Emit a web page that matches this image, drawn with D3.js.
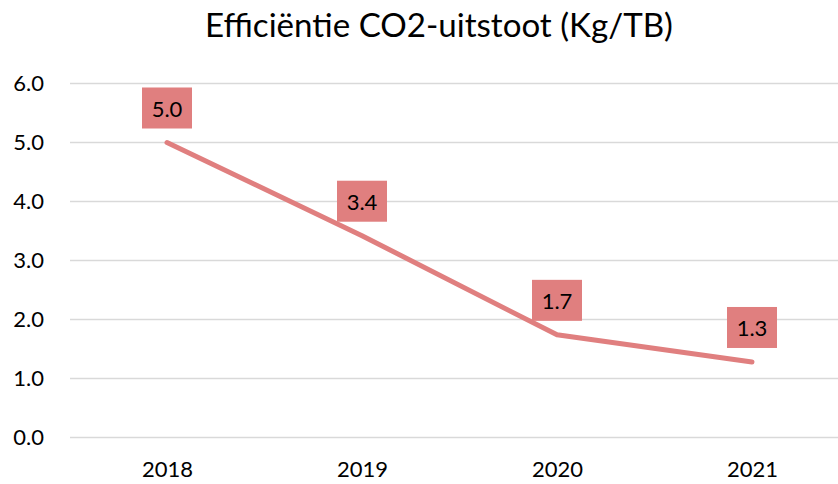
<!DOCTYPE html>
<html>
<head>
<meta charset="utf-8">
<script src="https://cdn.jsdelivr.net/npm/d3@7"></script>
<style>
  html, body { margin: 0; padding: 0; background: #fff; }
  svg { display: block; }
  text { font-family: Lato, "Open Sans", sans-serif; fill: #000; }
</style>
</head>
<body>
<svg id="chart" width="838" height="484"></svg>
<script>
const title = "Efficiëntie CO2-uitstoot (Kg/TB)";
const years = ["2018", "2019", "2020", "2021"];
const values = [5.0, 3.42, 1.74, 1.28];
const labels = ["5.0", "3.4", "1.7", "1.3"];
const yTicks = [0, 1, 2, 3, 4, 5, 6];

const W = 838, H = 484;
const svg = d3.select("#chart");

const x = d3.scalePoint().domain(years).range([167, 752]);
const y = d3.scaleLinear().domain([0, 6]).range([437.5, 83.5]);

// gridlines
svg.append("g").selectAll("line").data(yTicks).join("line")
  .attr("x1", 70).attr("x2", W)
  .attr("y1", d => y(d)).attr("y2", d => y(d))
  .attr("stroke", "#d9d9d9").attr("stroke-width", 1.5);

// y axis labels
const yAxis = d3.axisLeft(y).tickValues(yTicks).tickFormat(d3.format(".1f")).tickSize(0).tickPadding(0);
const gy = svg.append("g").attr("transform", "translate(44,0)").call(yAxis);
gy.select(".domain").remove();
gy.selectAll("text").attr("font-family", "Lato, sans-serif").attr("font-size", 22).attr("fill", "#000");

// x axis labels
const xAxis = d3.axisBottom(x).tickSize(0).tickPadding(0);
const gx = svg.append("g").attr("transform", "translate(0,461)").call(xAxis);
gx.select(".domain").remove();
gx.selectAll("text").attr("font-family", "Lato, sans-serif").attr("font-size", 22).attr("fill", "#000")
  .attr("dy", "0.72em");

// line
const line = d3.line().x((d, i) => x(years[i])).y(d => y(d));
svg.append("path").datum(values)
  .attr("d", line)
  .attr("fill", "none")
  .attr("stroke", "#e07f7f")
  .attr("stroke-width", 5)
  .attr("stroke-linecap", "round")
  .attr("stroke-linejoin", "round");

// data labels
const lg = svg.append("g").selectAll("g").data(values).join("g")
  .attr("transform", (d, i) => `translate(${x(years[i])},${y(d) - 14})`);
lg.append("rect")
  .attr("x", -25).attr("y", -41).attr("width", 50).attr("height", 41)
  .attr("fill", "#e07f7f");
lg.append("text")
  .attr("text-anchor", "middle")
  .attr("y", -20.5)
  .attr("dominant-baseline", "central")
  .attr("font-size", 22)
  .text((d, i) => labels[i]);

// title
const t = svg.append("text")
  .attr("x", 439).attr("y", 37)
  .attr("text-anchor", "middle")
  .attr("font-size", 31)
  .text(title);
const w = t.node().getComputedTextLength();
t.attr("font-size", 31 * 468 / w);
</script>
</body>
</html>
